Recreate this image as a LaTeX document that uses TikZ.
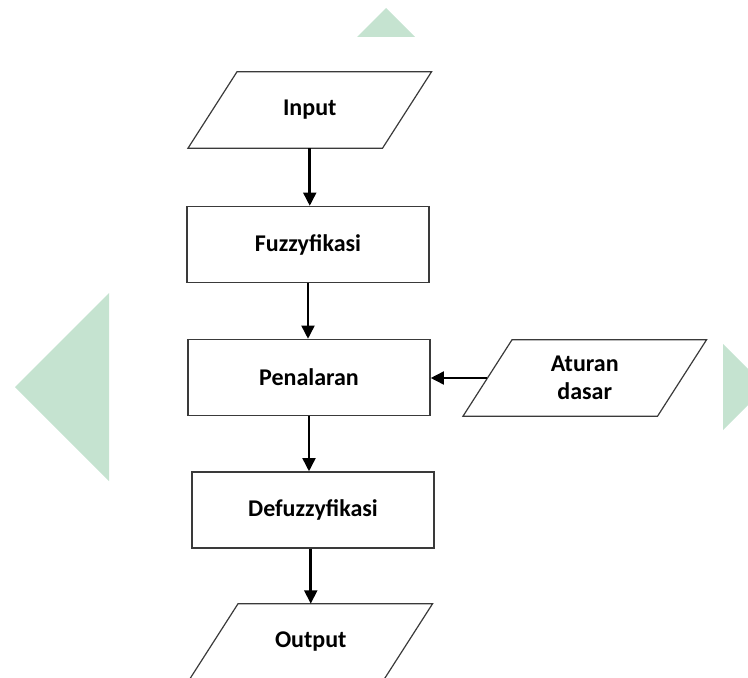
\documentclass[tikz,border=0pt]{standalone}
\usepackage{fontspec}
\setmainfont{Carlito}
\usetikzlibrary{arrows.meta}
\definecolor{emblemgreen}{RGB}{197,227,208}
\definecolor{edgegray}{RGB}{58,58,58}
\tikzset{
  lbl/.style={font=\fontsize{18}{21}\selectfont\bfseries, text=black, align=center, inner sep=0pt},
  procbox/.style={lbl, draw=edgegray, line width=0.9pt, minimum width=181.5pt, minimum height=57pt},
  iobox/.style={lbl, minimum width=145.5pt, minimum height=57pt,
    append after command={\pgfextra{
      \draw[edgegray, line width=0.9pt, line join=miter]
      ([xshift=18.4pt]\tikzlastnode.north west) -- ([xshift=18.4pt]\tikzlastnode.north east)
      -- ([xshift=-18.4pt]\tikzlastnode.south east) -- ([xshift=-18.4pt]\tikzlastnode.south west) -- cycle;}}},
  flow/.style={line width=2.2pt, -{Triangle[length=10pt,width=9.5pt]}}
}
\begin{document}
\begin{tikzpicture}[x=0.75pt, y=-0.75pt]
\useasboundingbox (0,0) rectangle (748,677);
% faint background emblem pieces
\fill[emblemgreen] (15,387) -- (109,293) -- (109,481) -- cycle;
\fill[emblemgreen] (723,344) -- (766,387) -- (723,430) -- cycle;
\fill[emblemgreen] (386,8) -- (415,37) -- (357,37) -- cycle;

% flowchart
\node[iobox] (in) at (309.75,110) {Input};
\node[procbox] (fuz) at (308,244.5) {Fuzzyfikasi};
\node[procbox] (pen) at (309,377.5) {Penalaran};
\node[iobox] (rules) at (584.75,378) {Aturan\\dasar};
\node[procbox] (def) at (313,510) {Defuzzyfikasi};
\node[iobox] (out) at (310.75,642) {Output};

\draw[flow] (in.south) -- (in.south |- fuz.north);
\draw[flow] (fuz.south) -- (fuz.south |- pen.north);
\draw[flow] (pen.south) -- (pen.south |- def.north);
\draw[flow] (out.north |- def.south) -- (out.north);
\draw[flow] (rules.west) -- (rules.west -| pen.east);
\end{tikzpicture}
\end{document}
